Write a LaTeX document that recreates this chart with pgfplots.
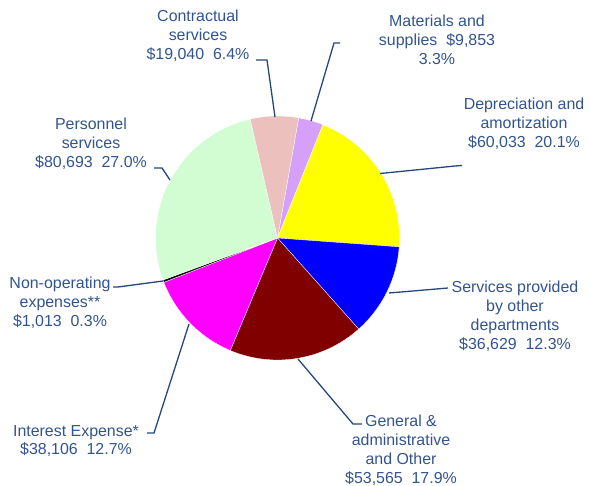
\documentclass[border=0pt]{standalone}
\usepackage{pgfplots}
\usepackage{pgfplotstable}
\pgfplotsset{compat=1.18}
\usepackage{fontspec}
\setmainfont{Liberation Sans}
\definecolor{matC}{RGB}{214,160,250}
\definecolor{depC}{RGB}{255,255,0}
\definecolor{svcC}{RGB}{0,0,255}
\definecolor{genC}{RGB}{128,0,0}
\definecolor{intC}{RGB}{255,0,255}
\definecolor{nonC}{RGB}{15,15,15}
\definecolor{perC}{RGB}{210,252,210}
\definecolor{conC}{RGB}{236,192,188}
\definecolor{txtC}{RGB}{50,84,142}
\definecolor{lineC}{RGB}{36,72,122}
\tikzset{lbl/.style={font=\fontsize{16}{19}\selectfont, text=txtC, align=center, inner sep=0pt},
  ldr/.style={lineC, line width=1.3pt}}

% values in thousands of dollars, clockwise from the start angle
\pgfplotstableread{
value color
9.853  matC
60.033 depC
36.629 svcC
53.565 genC
38.106 intC
1.013  nonC
80.693 perC
19.040 conC
}\piedata

\pgfplotstablegetrowsof{\piedata}
\pgfmathtruncatemacro\nrows{\pgfplotsretval-1}
\gdef\total{0}
\pgfplotsforeachungrouped \i in {0,...,\nrows}{%
  \pgfplotstablegetelem{\i}{value}\of\piedata
  \pgfmathsetmacro\tmp{\total+\pgfplotsretval}%
  \xdef\total{\tmp}%
}
\gdef\cum{0}
\gdef\slices{}
\pgfplotsforeachungrouped \i in {0,...,\nrows}{%
  \pgfplotstablegetelem{\i}{value}\of\piedata \let\v\pgfplotsretval
  \pgfplotstablegetelem{\i}{color}\of\piedata \let\c\pgfplotsretval
  \pgfmathsetmacro\a{80-\cum/\total*360}%
  \pgfmathsetmacro\tmp{\cum+\v}%
  \xdef\cum{\tmp}%
  \pgfmathsetmacro\b{80-\cum/\total*360}%
  \xdef\slices{\slices\noexpand\fill[\c, draw=white, line width=0.3pt, line join=round]
    (axis cs:277.5,238) -- ++(\a:122bp) arc[start angle=\a, end angle=\b, radius=122bp] -- cycle;}%
}

\begin{document}
\begin{tikzpicture}
\begin{axis}[
  at={(0,0)}, anchor=south west,
  scale only axis, width=589bp, height=486bp,
  xmin=0, xmax=589, ymin=0, ymax=486, y dir=reverse,
  hide axis, clip=false,
]
\slices

% leader lines
\draw[ldr] (axis cs:275,117) -- (axis cs:267,60) -- (axis cs:256,60);
\draw[ldr] (axis cs:311,121) -- (axis cs:334,43) -- (axis cs:340,43);
\draw[ldr] (axis cs:380,173.5) -- (axis cs:455,166) -- (axis cs:462,165.5);
\draw[ldr] (axis cs:389,293) -- (axis cs:448,288);
\draw[ldr] (axis cs:298,359) -- (axis cs:353,424) -- (axis cs:362,424);
\draw[ldr] (axis cs:189,324) -- (axis cs:154,433) -- (axis cs:147,433);
\draw[ldr] (axis cs:163,281) -- (axis cs:118,287) -- (axis cs:113,287);
\draw[ldr] (axis cs:170,180) -- (axis cs:162,168) -- (axis cs:154,168);

% labels
\node[lbl] at (axis cs:198,36) {Contractual\\services\\\$19,040\ \ 6.4\%};
\node[lbl] at (axis cs:437,40) {Materials and\\supplies\ \ \$9,853\\3.3\%};
\node[lbl] at (axis cs:524,124) {Depreciation and\\amortization\\\$60,033\ \ 20.1\%};
\node[lbl] at (axis cs:515,316) {Services provided\\by other\\departments\\\$36,629\ \ 12.3\%};
\node[lbl] at (axis cs:401,450) {General \&\\administrative\\and Other\\\$53,565\ \ 17.9\%};
\node[lbl] at (axis cs:76,441) {Interest Expense*\\\$38,106\ \ 12.7\%};
\node[lbl] at (axis cs:60,303) {Non-operating\\expenses**\\\$1,013\ \ 0.3\%};
\node[lbl] at (axis cs:91,144) {Personnel\\services\\\$80,693\ \ 27.0\%};
\end{axis}
\pgfresetboundingbox
\path (0,0) rectangle (589bp,486bp);
\end{tikzpicture}
\end{document}
